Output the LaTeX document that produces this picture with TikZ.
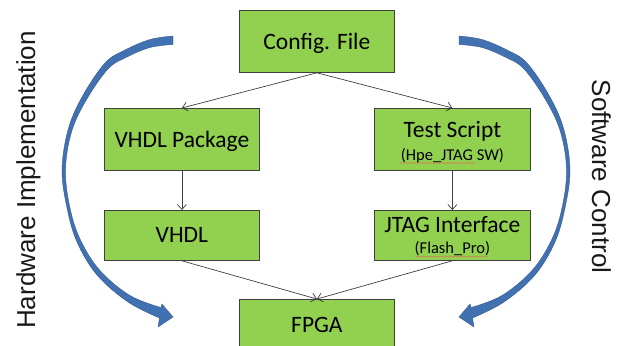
\documentclass[tikz,border=0pt]{standalone}
\usepackage{fontspec}
\setmainfont{Carlito}
\newfontfamily\sidefont{Liberation Sans}
\usetikzlibrary{arrows.meta,decorations.pathmorphing}
\definecolor{boxgreen}{RGB}{146,208,80}
\definecolor{boxline}{RGB}{64,64,64}
\definecolor{arcblue}{RGB}{65,113,176}
\definecolor{arcedge}{RGB}{50,88,138}
\definecolor{spellred}{RGB}{215,120,90}
\newcommand\myarcshape{%
  \filldraw[arcstyle] plot[smooth,tension=0.6] coordinates {(173,36) (150,39.5) (125,50) (105,63) (82,97) (68,130) (62,170) (67,208) (77,242) (97,275) (128,302) (159.5,318)}
   -- (158,327) -- (173,317) -- (162,304)
   -- plot[smooth,tension=0.6] coordinates {(161,307.5) (130,295.5) (100,270.5) (80.5,240) (70,208) (65.5,170) (71.5,132) (86,100.5) (108,69) (127,57) (150,47.5) (173,44.5)}
   -- cycle;}
\begin{document}
\begin{tikzpicture}[x=1pt,y=-1pt,
  box/.style={draw=boxline, fill=boxgreen, line width=0.8pt, minimum width=155pt, inner sep=0pt, anchor=north west},
  tallbox/.style={box, minimum height=62pt},
  lowbox/.style={box, minimum height=50pt},
  boxtext/.style={font=\fontsize{23.5}{28}\selectfont, text=black, inner sep=0pt, anchor=base},
  smalltext/.style={font=\fontsize{16.5}{20}\selectfont, text=black, inner sep=0pt, anchor=base},
  sidetext/.style={font=\sidefont\fontsize{26}{30}\selectfont, text=black!90, inner sep=0pt, anchor=base},
  conn/.style={draw=black!75, line width=0.7pt, -{Straight Barb[length=5pt,width=9pt]}},
  arcstyle/.style={fill=arcblue, draw=arcedge, line width=0.35pt},
  squiggle/.style={draw=spellred, line width=0.5pt, decorate, decoration={snake, amplitude=0.5pt, segment length=2.5pt}}]
\useasboundingbox (0,0) rectangle (625,346);
\clip (0,0) rectangle (625,346);
\fill[white] (0,0) rectangle (625,346);

% curved arrows
\myarcshape
\begin{scope}[xshift=632pt, xscale=-1]
\myarcshape
\end{scope}

% boxes
\node[tallbox] (cf) at (239,10) {};
\node[tallbox] (vp) at (104,108) {};
\node[tallbox, minimum width=156pt] (ts) at (374,108) {};
\node[lowbox] (vh) at (104,210) {};
\node[lowbox, minimum width=156pt] (jt) at (374,210) {};
\node[lowbox] (fp) at (239,299) {};

% texts
\node[boxtext] (cft) at (cf.center |- 0,49) {Config. File};
\node[boxtext] (vpt) at (vp.center |- 0,147) {VHDL Package};
\node[boxtext] (tst) at (ts.center |- 0,137) {Test Script};
\node[smalltext] (tss) at (ts.center |- 0,160) {(Hpe\_JTAG SW)};
\node[boxtext] (vht) at (vh.center |- 0,242) {VHDL};
\node[boxtext] (jtt) at (jt.center |- 0,232) {JTAG Interface};
\node[smalltext] (jts) at (jt.center |- 0,253.5) {(Flash\_Pro)};
\node[boxtext] (fpt) at (fp.center |- 0,332) {FPGA};

% spell-check marks
\draw[squiggle] (400,163) -- (475,163);
\draw[squiggle] (415,256.5) -- (487,256.5);

% connectors
\draw[conn] (cf.south) -- (vp.north);
\draw[conn] (cf.south) -- (ts.north);
\draw[conn] (vp.south) -- (vh.north);
\draw[conn] (ts.south) -- (jt.north);
\draw[conn] (vh.south) -- (fp.north);
\draw[conn] (jt.south) -- (fp.north);

% side labels
\node[sidetext, rotate=90] (hw) at (35,180) {Hardware Implementation};
\node[sidetext, rotate=-90] (sw) at (592,176.5) {Software Control};
\end{tikzpicture}
\end{document}
